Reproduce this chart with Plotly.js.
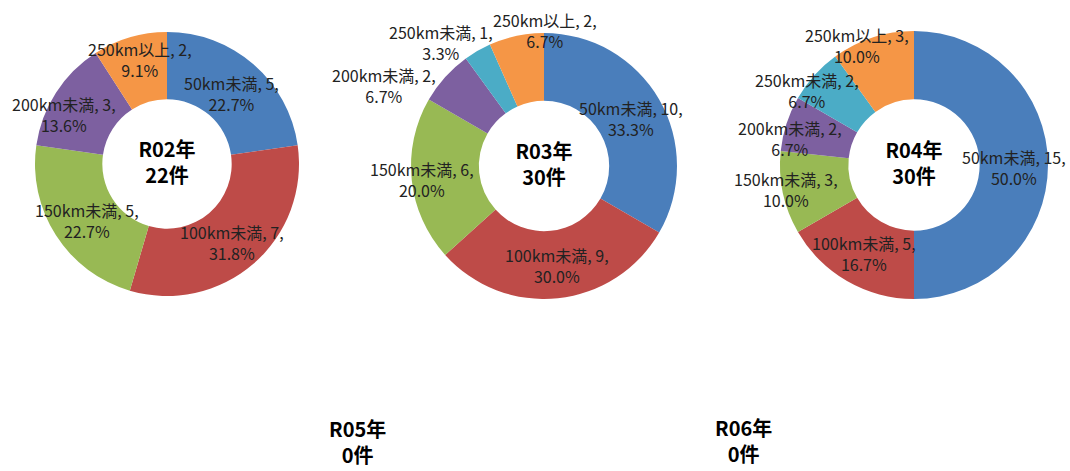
<!DOCTYPE html>
<html><head><meta charset="utf-8">
<script src="https://cdn.plot.ly/plotly-3.0.1.min.js"></script>
<style>html,body{margin:0;padding:0;background:#fff}#chart{width:1070px;height:471px}</style>
</head><body><div id="chart"></div>
<script>
const categories = ['50km未満','100km未満','150km未満','200km未満','250km未満','250km以上'];
const years = ['R02年','R03年','R04年','R05年','R06年'];
const valuesR02 = [5,7,5,3,0,2];
const valuesR03 = [10,9,6,2,1,2];
const valuesR04 = [15,5,3,2,2,3];
const valuesR05 = [0,0,0,0,0,0];
const valuesR06 = [0,0,0,0,0,0];
const colors = ['#4A7EBB','#BE4B48','#98B954','#7D60A0','#4BACC6','#F59646'];

const FONT = '"Noto Sans CJK JP", "Noto Sans", sans-serif';
const W = 1070, H = 471;
function dom(cx, cy, r){
  return {x:[(cx-r)/W,(cx+r)/W], y:[1-(cy+r)/H, 1-(cy-r)/H]};
}
// layout of the donuts (pixel centres / radii)
const pieGeo = [
  {cx:167, cy:164, r:132},
  {cx:544, cy:166, r:133},
  {cx:914, cy:165, r:134},
  {cx:357, cy:441},
  {cx:743, cy:440}
];
// label nudges (px) from the mid-ring position, as placed in the reference
const labelNudge = [
  [[0,4],[1,4],[3,3],[-20,4],[0,0],[1,-10]],
  [[1,2],[3,1],[-23,3],[-86,-14],[-53,-38],[22,-39]],
  [[0,3],[0,2],[-30,4],[-29,4],[-33,-8],[-26,-25]]
];
const HOLE = 0.49;
const allVals = [valuesR02, valuesR03, valuesR04, valuesR05, valuesR06];
const traces = [];
const annotations = [];
allVals.forEach((vals, i) => {
  const total = vals.reduce((a,b)=>a+b,0);
  const g = pieGeo[i];
  if (total > 0) {
    const labs = [], vs = [], cs = [];
    vals.forEach((v,k)=>{ if(v>0){ labs.push(categories[k]); vs.push(v); cs.push(colors[k]); } });
    traces.push({
      type:'pie', labels:labs, values:vs, sort:false, direction:'clockwise', rotation:0,
      hole:HOLE, domain:dom(g.cx,g.cy,g.r),
      marker:{colors:cs, line:{width:0}},
      textinfo:'none',
      title:{text:'<b>'+years[i]+'<br>'+total+'件</b>', position:'middle center', font:{family:FONT, size:20, color:'#000'}},
      showlegend:false, hoverinfo:'label+value+percent'
    });
    // data labels placed at the middle of each ring segment
    let cum = 0;
    const rMid = g.r*(1+HOLE)/2;
    vals.forEach((v,k)=>{
      if(v<=0){ return; }
      const mid = (cum + v/2)/total*2*Math.PI;
      cum += v;
      const nd = labelNudge[i][k];
      const px = g.cx + rMid*Math.sin(mid) + nd[0];
      const py = g.cy - rMid*Math.cos(mid) + nd[1];
      annotations.push({xref:'paper', yref:'paper', x:px/W, y:1-py/H, xanchor:'center', yanchor:'middle',
        showarrow:false, align:'center',
        text: categories[k]+', '+v+',<br>'+(v/total*100).toFixed(1)+'%',
        font:{family:FONT, size:16, color:'#222'}});
    });
  } else {
    annotations.push({xref:'paper', yref:'paper', x:g.cx/W, y:1-g.cy/H, xanchor:'center', yanchor:'middle',
      showarrow:false, align:'center',
      text:'<b>'+years[i]+'<br>'+total+'件</b>', font:{family:FONT, size:20, color:'#000'}});
  }
});

Plotly.newPlot('chart', traces, {
  width:W, height:H, margin:{l:0,r:0,t:0,b:0},
  paper_bgcolor:'#fff', plot_bgcolor:'#fff',
  annotations:annotations,
  font:{family:FONT}
}, {displayModeBar:false, staticPlot:true});
</script>
</body></html>
